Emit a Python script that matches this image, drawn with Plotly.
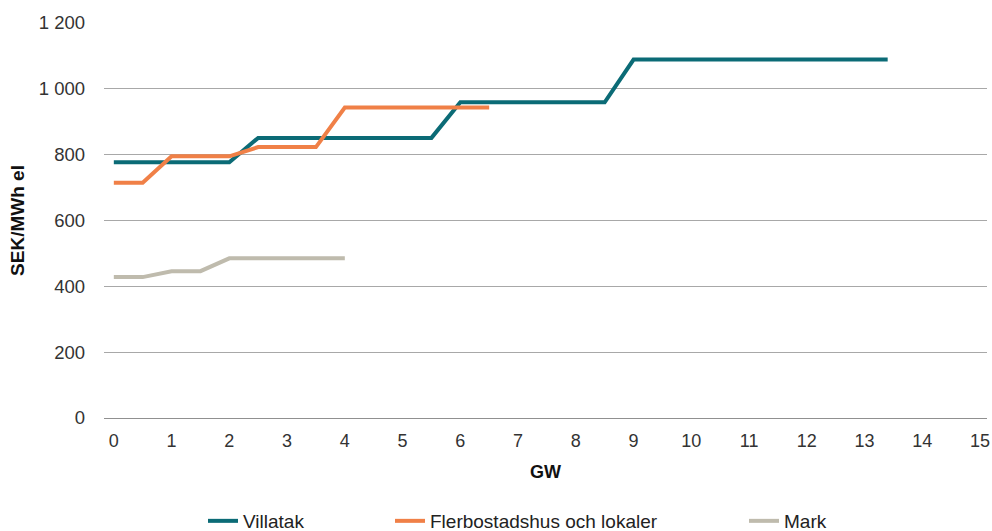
import plotly.graph_objects as go

# Data
villatak_x = [0, 2.0, 2.5, 5.5, 6.0, 8.5, 9.0, 13.4]
villatak_y = [777, 777, 851, 851, 959, 959, 1089, 1089]

fler_x = [0, 0.5, 1.0, 2.0, 2.5, 3.5, 4.0, 6.5]
fler_y = [715, 715, 795, 795, 823, 823, 943, 943]

mark_x = [0, 0.5, 1.0, 1.5, 2.0, 4.0]
mark_y = [428, 428, 446, 446, 485, 485]

y_tickvals = [0, 200, 400, 600, 800, 1000, 1200]
y_ticktext = ["0", "200", "400", "600", "800", "1 000", "1 200"]
x_tickvals = list(range(0, 16))

series = [
    ("Villatak", villatak_x, villatak_y, "#0b6b76", "legend"),
    ("Flerbostadshus och lokaler", fler_x, fler_y, "#f08047", "legend2"),
    ("Mark", mark_x, mark_y, "#bfbbad", "legend3"),
]

fig = go.Figure()
for name, xs, ys, col, lg in series:
    fig.add_trace(go.Scatter(x=xs, y=ys, mode="lines", name=name,
                             line=dict(color=col, width=4), legend=lg))

font_family = "Liberation Sans, Arial, sans-serif"
W, H = 992, 531
ml, mr, mt, mb = 104, 5, 23, 113
pw = W - ml - mr
ph = H - mt - mb

def lx(px):
    return (px - ml) / pw

legend_y = -(521 - (H - mb)) / ph

legend_common = dict(orientation="h", yref="paper", y=legend_y, yanchor="middle",
                     xanchor="left", bgcolor="rgba(0,0,0,0)",
                     font=dict(family=font_family, size=19, color="#222222"))

fig.update_layout(
    width=W, height=H,
    margin=dict(l=ml, r=mr, t=mt, b=mb, autoexpand=False),
    plot_bgcolor="white", paper_bgcolor="white",
    font=dict(family=font_family, size=18, color="#333333"),
    showlegend=True,
    legend=dict(x=lx(203), **legend_common),
    legend2=dict(x=lx(390), **legend_common),
    legend3=dict(x=lx(744), **legend_common),
    xaxis=dict(range=[-0.17, 15.12], tickvals=x_tickvals, showgrid=False,
               zeroline=False, showline=False, ticks="", ticklabelstandoff=10,
               tickfont=dict(size=18, color="#333333"),
               title=dict(text="<b>GW</b>", font=dict(size=18, color="#111111"), standoff=15)),
    yaxis=dict(range=[0, 1200], tickvals=y_tickvals, ticktext=y_ticktext,
               showgrid=True, gridcolor="#a8a8a8", gridwidth=1,
               zeroline=True, zerolinecolor="#909090", zerolinewidth=1,
               showline=False, ticks="", ticklabelstandoff=18,
               tickfont=dict(size=18.5, color="#333333"),
               title=dict(text="<b>SEK/MWh el</b>", font=dict(size=19, color="#111111"), standoff=9)),
)

fig.write_html("out.html", config={"displayModeBar": False},
               post_script="document.body.style.margin='0';")
